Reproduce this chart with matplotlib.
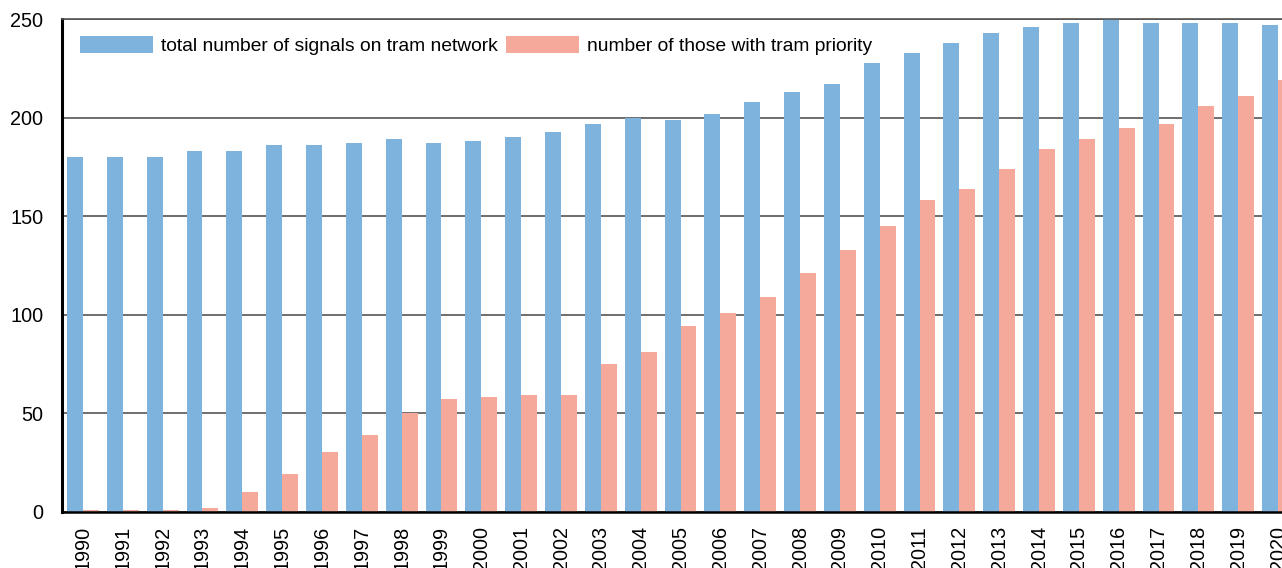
import numpy as np
import matplotlib
matplotlib.use('Agg')
import matplotlib.pyplot as plt

# data
years = list(range(1990, 2021))
total_signals = [180, 180, 180, 183, 183, 186, 186, 187, 189, 187,
                 188, 190, 193, 197, 200, 199, 202, 208, 213, 217,
                 228, 233, 238, 243, 246, 248, 250, 248, 248, 248, 247]
priority_signals = [1, 1, 1, 2, 10, 19, 30, 39, 50, 57,
                    58, 59, 59, 75, 81, 94, 101, 109, 121, 133,
                    145, 158, 164, 174, 184, 189, 195, 197, 206, 211, 219]
y_ticks = [0, 50, 100, 150, 200, 250]

labels = ['total number of signals on tram network',
          'number of those with tram priority']
colors = ['#7db3dd', '#f4a99b']

plt.rcParams['font.family'] = ['Liberation Sans', 'DejaVu Sans']

fig = plt.figure(figsize=(12.82, 5.68), dpi=100)
ax = fig.add_axes([62 / 1282, 1 - 511.5 / 568, 1 - 62 / 1282, (511.5 - 19.3) / 568])

x = np.arange(len(years))
w = 0.4
ax.bar(x - w / 2, total_signals, width=w, color=colors[0], label=labels[0], zorder=2)
ax.bar(x + w / 2, priority_signals, width=w, color=colors[1], label=labels[1], zorder=2)

ax.set_xlim(-0.527, 30.1)
ax.set_ylim(0, 250)
ax.set_yticks(y_ticks)
ax.set_xticks(x)
ax.set_xticklabels([str(y) for y in years], rotation=90, va='top', ha='center')
ax.tick_params(axis='both', length=0, labelsize=14.3)
ax.tick_params(axis='y', pad=13.5)
ax.tick_params(axis='x', pad=10.5)

ax.yaxis.grid(True, color='#555555', linewidth=1.2, zorder=1)
ax.set_axisbelow(True)

ax.spines['right'].set_visible(False)
ax.spines['top'].set_color('#555555')
ax.spines['top'].set_linewidth(1.2)
ax.spines['left'].set_linewidth(2.2)
ax.spines['bottom'].set_linewidth(1.8)

ax.legend(loc='upper left', bbox_to_anchor=(0.004, 0.993), ncol=2, frameon=False,
          fontsize=13.9, handlelength=3.78, handleheight=0.95, handletextpad=0.42,
          columnspacing=0.4, borderpad=0.2)

fig.savefig('out.png', dpi=100)
